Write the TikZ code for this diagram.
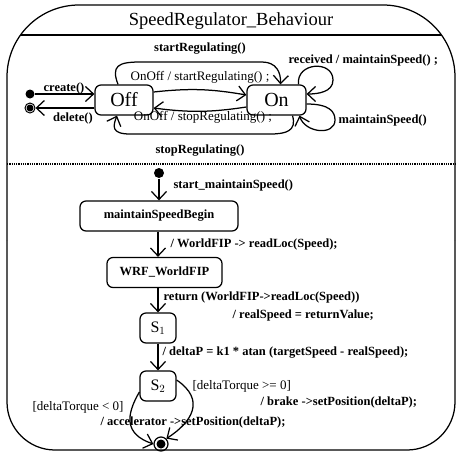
\documentclass[tikz,border=0pt]{standalone}
\usepackage{fontspec}
\setmainfont{Liberation Serif}
\usetikzlibrary{arrows.meta}

\begin{document}
\begin{tikzpicture}[x=1pt,y=1pt,line width=1.25pt,
	>={Straight Barb[length=8pt,width=15pt]},
	stbox/.style={draw,rounded corners=6pt,inner sep=0pt,minimum height=30pt},
	lbl/.style={font=\fontsize{12.5}{14}\selectfont\bfseries,inner sep=0pt},
	lblr/.style={font=\fontsize{13}{15}\selectfont,inner sep=0pt}]
 \useasboundingbox (0,0) rectangle (458,-459);

	% frame
 \draw[rounded corners=72pt] (7,-240) -- (7,-5) -- (455,-5) -- (455,-240);
 \draw[rounded corners=48pt] (455,-240) -- (455,-450) -- (7,-450) -- (7,-240);
	\begin{scope}
 \clip[rounded corners=72pt] (7,-240) -- (7,-5) -- (455,-5) -- (455,-240) -- cycle;
 \draw (0,-35) -- (458,-35);
	\end{scope}
 \draw[densely dotted] (7,-164) -- (455,-164);

 \node[font=\fontsize{18.5}{20}\selectfont,inner sep=0pt] (title) at (231,-21) {SpeedRegulator\_Behaviour};

	% upper region
 \node[stbox,minimum width=58pt,font=\fontsize{20}{22}\selectfont] (off) at (124,-100) {Off};
 \node[stbox,minimum width=59pt,font=\fontsize{20}{22}\selectfont] (on) at (276.5,-100) {On};

 \node[circle,fill,inner sep=0pt,minimum size=9pt] (init1) at (30,-94) {};
 \node[circle,draw,inner sep=0pt,minimum size=10pt,line width=1pt] (fin1) at (30,-108) {};
 \fill (fin1) circle (3.5pt);

 \draw[->] (init1) -- (init1 -| off.west);
 \draw[->] (fin1 -| off.west) -- (fin1);
 \node[lbl] at (64,-88) {create()};
 \node[lbl] at (73,-118) {delete()};

 \draw[->] ([yshift=8pt]off.east) to[bend left=8] ([yshift=5pt]on.west);
 \draw[->] ([yshift=-7pt]on.west) to[bend left=8] ([yshift=-8pt]off.east);

 \draw[->] ([xshift=-6pt]off.north) .. controls (111,-66) and (118,-62) .. (140,-62)
   -- (262,-62) .. controls (276,-62) and (281,-72) .. ([xshift=4pt]on.north);
 \draw[->] ([xshift=16pt]on.south) .. controls (297,-131) and (286,-134) .. (270,-134)
   -- (130,-134) .. controls (111,-134) and (113,-126) .. ([xshift=-7pt]off.south);

 \draw[->] ([xshift=22pt]on.north) .. controls (296,-62) and (333,-60) .. (333,-80)
   .. controls (333,-92) and (318,-94) .. ([yshift=6pt]on.east);
 \draw[->] ([yshift=-4pt]on.east) .. controls (330,-104) and (335,-112) .. (335,-120)
   .. controls (335,-136) and (305,-133) .. ([xshift=23pt]on.south);

 \node[lbl] at (200,-49) {startRegulating()};
 \node[lblr] at (200,-77) {OnOff / startRegulating() ;};
 \node[lblr] at (203,-117) {OnOff / stopRegulating() ;};
 \node[lbl] at (200,-151) {stopRegulating()};
 \node[lbl,anchor=west] at (288,-60) {received / maintainSpeed() ;};
 \node[lbl,anchor=west] at (338,-120) {maintainSpeed()};

	% lower region
 \node[circle,fill,inner sep=0pt,minimum size=10pt] (init2) at (159,-173) {};
 \node[stbox,minimum width=158pt,lbl] (begin) at (159,-216) {maintainSpeedBegin};
 \node[stbox,minimum width=115pt,lbl] (wrf) at (164.5,-272.5) {WRF\_WorldFIP};
 \node[stbox,minimum width=36pt,font=\fontsize{16}{18}\selectfont] (s1) at (158,-328) {S$_1$};
 \node[stbox,minimum width=36pt,font=\fontsize{16}{18}\selectfont] (s2) at (158,-386) {S$_2$};
 \node[circle,draw,inner sep=0pt,minimum size=14pt,line width=1.2pt] (fin2) at (161,-444) {};
 \fill (fin2) circle (4.5pt);

 \draw[->] (init2) -- (init2 |- begin.north);
 \draw[->] (s1 |- begin.south) -- (s1 |- wrf.north);
 \draw[->] (s1 |- wrf.south) -- (s1.north);
 \draw[->] (s1) -- (s2);
 \draw[->] ([yshift=-6pt]s2.west) .. controls (126,-415) and (124,-434) .. (fin2.west);
 \draw[->] ([yshift=6pt]s2.east) .. controls (206,-400) and (192,-422) .. (fin2.north east);

 \node[lbl,anchor=west] at (173,-185) {start\_maintainSpeed()};
 \node[lbl,anchor=west] at (170,-244) {/ WorldFIP -> readLoc(Speed);};
 \node[lbl,anchor=west] at (163,-297) {return (WorldFIP->readLoc(Speed))};
 \node[lbl,anchor=west] at (232,-315) {/ realSpeed = returnValue;};
 \node[lbl,anchor=west] at (162,-353) {/ deltaP = k1 * atan (targetSpeed - realSpeed);};
 \node[lblr,anchor=west] at (192,-386) {[deltaTorque >= 0]};
 \node[lbl,anchor=west] at (260,-402) {/ brake ->setPosition(deltaP);};
 \node[lblr,anchor=west] at (32,-407) {[deltaTorque < 0]};
 \node[lbl,anchor=west] at (100,-422) {/ accelerator ->setPosition(deltaP);};
\end{tikzpicture}
\end{document}
